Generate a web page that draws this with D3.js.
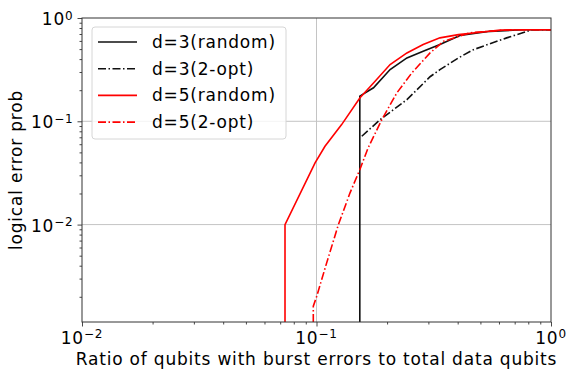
<!DOCTYPE html>
<html>
  <head>
    <script src="https://cdn.jsdelivr.net/npm/d3@7"></script>
    <style>
      body { margin: 0; background: #fff; }
      text { font-family: 'DejaVu Sans', sans-serif; fill: #000; letter-spacing: 0.8px; }
    </style>
  </head>
  <body>
    <svg width="568" height="371"></svg>
    <script>
      // data
      const d3RandomX = [0.153, 0.153, 0.175, 0.206, 0.243, 0.285, 0.336, 0.409, 0.55, 0.76, 1.0];
      const d3RandomY = [0, 0.175, 0.211, 0.317, 0.411, 0.476, 0.553, 0.676, 0.743, 0.77, 0.77];

      const d3OptX = [0.156, 0.187, 0.243, 0.305, 0.336, 0.403, 0.467, 0.647, 0.828, 1.0];
      const d3OptY = [0.0716, 0.104, 0.162, 0.27, 0.316, 0.411, 0.494, 0.642, 0.77, 0.77];

      const d5RandomX = [0.0734, 0.0734, 0.0986, 0.1087, 0.128, 0.153, 0.175, 0.206, 0.243, 0.285, 0.336, 0.403, 0.498, 0.607, 0.77, 1.0];
      const d5RandomY = [0, 0.01, 0.0396, 0.0573, 0.0929, 0.168, 0.235, 0.354, 0.459, 0.553, 0.642, 0.69, 0.727, 0.763, 0.77, 0.77];

      const d5OptX = [0.0969, 0.0969, 0.1002, 0.1105, 0.124, 0.139, 0.153, 0.166, 0.190, 0.220, 0.255, 0.305, 0.348, 0.452, 0.668, 1.0];
      const d5OptY = [0, 0.00162, 0.00202, 0.00426, 0.0100, 0.0203, 0.034, 0.0553, 0.104, 0.188, 0.294, 0.459, 0.595, 0.72, 0.77, 0.77];

      const seriesNames = ['d=3(random)', 'd=3(2-opt)', 'd=5(random)', 'd=5(2-opt)'];
      const xTickExps = [-2, -1, 0];
      const yTickExps = [-2, -1, 0];
      const xLabel = 'Ratio of qubits with burst errors to total data qubits';
      const yLabel = 'logical error prob';
      const yMin = 0.00114;

      const svg = d3.select('svg');
      const width = +svg.attr('width');
      const height = +svg.attr('height');
      const margin = {top: 18, right: 17, bottom: 49, left: 82};
      const innerW = width - margin.left - margin.right;
      const innerH = height - margin.top - margin.bottom;

      const x = d3.scaleLog().domain([0.01, 1]).range([0, innerW]).clamp(true);
      const y = d3.scaleLog().domain([yMin, 1]).range([innerH, 0]).clamp(true);

      const g = svg.append('g').attr('transform', `translate(${margin.left},${margin.top})`);

      // grid on major ticks
      const gridG = g.append('g');
      gridG.selectAll('.gx').data([0.1]).enter().append('line')
        .attr('x1', d => x(d)).attr('x2', d => x(d))
        .attr('y1', 0).attr('y2', innerH)
        .attr('stroke', '#c4c4c4').attr('stroke-width', 1);
      gridG.selectAll('.gy').data([0.1, 0.01]).enter().append('line')
        .attr('y1', d => y(d)).attr('y2', d => y(d))
        .attr('x1', 0).attr('x2', innerW)
        .attr('stroke', '#c4c4c4').attr('stroke-width', 1);

      // lines
      svg.append('defs').append('clipPath').attr('id', 'clip')
        .append('rect').attr('width', innerW).attr('height', innerH);

      const series = [
        {name: seriesNames[0], xs: d3RandomX, ys: d3RandomY, color: '#111', dash: null},
        {name: seriesNames[1], xs: d3OptX, ys: d3OptY, color: '#111', dash: '8,2.5,1.5,2.5'},
        {name: seriesNames[2], xs: d5RandomX, ys: d5RandomY, color: '#ff0000', dash: null},
        {name: seriesNames[3], xs: d5OptX, ys: d5OptY, color: '#ff0000', dash: '8,2.5,1.5,2.5'}
      ];

      const line = d3.line().x(d => x(d[0])).y(d => y(d[1]));
      const linesG = g.append('g').attr('clip-path', 'url(#clip)');
      linesG.selectAll('path').data(series).enter().append('path')
        .attr('d', s => line(s.xs.map((v, i) => [v, s.ys[i]])))
        .attr('fill', 'none')
        .attr('stroke', s => s.color)
        .attr('stroke-width', 1.6)
        .attr('stroke-dasharray', s => s.dash);

      // ticks
      const minors = [];
      [0.01, 0.1].forEach(b => d3.range(2, 10).forEach(k => minors.push(b * k)));
      const yMinors = [];
      [0.001, 0.01, 0.1].forEach(b => d3.range(2, 10).forEach(k => { if (b * k >= yMin) yMinors.push(b * k); }));

      const xAxisG = g.append('g').attr('transform', `translate(0,${innerH})`);
      xAxisG.call(d3.axisBottom(x).tickValues(xTickExps.map(e => Math.pow(10, e))).tickSize(4.5).tickFormat(''));
      xAxisG.append('g').call(d3.axisBottom(x).tickValues(minors).tickSize(2.5).tickFormat(''));
      const yAxisG = g.append('g');
      yAxisG.call(d3.axisLeft(y).tickValues(yTickExps.map(e => Math.pow(10, e))).tickSize(4.5).tickFormat(''));
      yAxisG.append('g').call(d3.axisLeft(y).tickValues(yMinors).tickSize(2.5).tickFormat(''));
      g.selectAll('.domain').remove();
      g.selectAll('.tick line').attr('stroke', '#333').attr('stroke-width', 0.9);

      // tick labels
      const powLabel = (sel, e) => {
        sel.append('tspan').text('10');
        sel.append('tspan').attr('dy', '-0.45em').attr('font-size', '12px')
          .text(e < 0 ? '\u2212' + (-e) : e);
      };
      xTickExps.forEach(e => {
        const t = g.append('text').attr('x', x(Math.pow(10, e))).attr('y', innerH + 21.5)
          .attr('text-anchor', 'middle').attr('font-size', '17px');
        powLabel(t, e);
      });
      yTickExps.forEach(e => {
        const t = g.append('text').attr('x', -8.5).attr('y', y(Math.pow(10, e)) + 7)
          .attr('text-anchor', 'end').attr('font-size', '17px');
        powLabel(t, e);
      });

      // spines
      g.append('rect').attr('width', innerW).attr('height', innerH)
        .attr('fill', 'none').attr('stroke', '#333').attr('stroke-width', 1);

      // axis titles
      svg.append('text').attr('x', margin.left + innerW / 2).attr('y', 364.5)
        .attr('text-anchor', 'middle').attr('font-size', '17px').text(xLabel);
      svg.append('text').attr('transform', `translate(22,${margin.top + innerH / 2}) rotate(-90)`)
        .attr('text-anchor', 'middle').attr('font-size', '17px').text(yLabel);

      // legend
      const legend = svg.append('g').attr('transform', 'translate(92,27)');
      legend.append('rect').attr('width', 194).attr('height', 112).attr('rx', 3)
        .attr('fill', '#fff').attr('fill-opacity', 0.8)
        .attr('stroke', '#d6d6d6').attr('stroke-width', 1);
      const rows = legend.selectAll('.row').data(series).enter().append('g')
        .attr('transform', (d, i) => `translate(0,${15 + i * 26.7})`);
      rows.append('line').attr('x1', 6).attr('x2', 45)
        .attr('stroke', d => d.color).attr('stroke-width', 1.6)
        .attr('stroke-dasharray', d => d.dash);
      rows.append('text').attr('x', 60).attr('y', 6).attr('font-size', '17px').text(d => d.name);
    </script>
  </body>
</html>
